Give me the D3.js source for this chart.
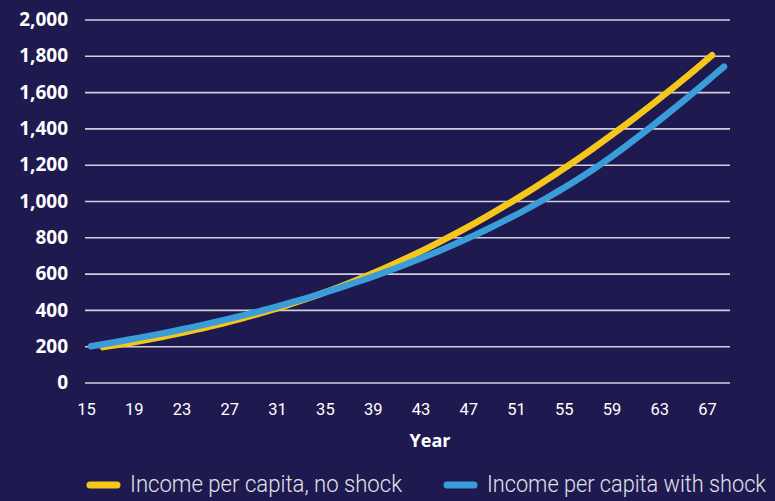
<html>

<head>
  <script src="https://d3js.org/d3.v7.min.js"></script>
  <style>
    body {
      margin: 0;
      background: #1e1a50;
    }

    svg {
      display: block;
    }

    .yLabel {
      fill: #ffffff;
      font-family: "Open Sans", sans-serif;
      font-weight: bold;
      font-size: 19px;
    }

    .xLabel {
      fill: #ffffff;
      font-family: Roboto, sans-serif;
      font-size: 16.5px;
    }

    .axisTitle {
      fill: #ffffff;
      font-family: "Open Sans", sans-serif;
      font-weight: bold;
      font-size: 18px;
    }

    .legendText {
      fill: #e2e2ea;
      font-family: Roboto, sans-serif;
      font-weight: 300;
      font-size: 24px;
    }
  </style>
</head>

<body>
  <svg id="chart" width="775" height="501"></svg>
  <script>
    // data
    const yearsNoShock = d3.range(16, 68);
    const incomeNoShock = [195, 205, 216, 227, 239, 252, 265, 279, 294, 309, 325, 342,
      360, 378, 397, 417, 438, 460, 483, 507, 532, 558, 585, 613, 642, 672, 703, 735,
      768, 802, 837, 873, 910, 948, 987, 1027, 1068, 1110, 1153, 1197, 1242, 1288,
      1335, 1383, 1432, 1482, 1533, 1585, 1638, 1692, 1747, 1803];

    const yearsShock = d3.range(15, 69);
    const incomeShock = [200, 211, 222, 234, 246, 258, 271, 284, 298, 312, 327, 342,
      358, 374, 391, 408, 426, 445, 464, 484, 505, 526, 548, 570, 593, 617, 642, 668,
      694, 721, 749, 778, 808, 839, 871, 904, 938, 974, 1011, 1049, 1088, 1129, 1172,
      1217, 1264, 1313, 1363, 1414, 1466, 1519, 1573, 1628, 1684, 1740];

    const xTicks = [15, 19, 23, 27, 31, 35, 39, 43, 47, 51, 55, 59, 63, 67];
    const yTicks = [0, 200, 400, 600, 800, 1000, 1200, 1400, 1600, 1800, 2000];

    const seriesNames = ["Income per capita, no shock", "Income per capita with shock"];
    const seriesColors = ["#f5c71a", "#3a9dd9"];

    let svg = d3.select("svg#chart");

    let plotLeft = 85;
    let plotRight = 730;

    let xScale = d3.scaleLinear([15, 68], [91, 724]);
    let yScale = d3.scaleLinear([0, 2000], [382.5, 19.5]);

    // grid lines
    let leftGrid = d3.axisLeft(yScale).tickValues(yTicks).tickFormat('').tickSize(-(plotRight - plotLeft));
    let grid = svg.append("g")
      .attr("transform", `translate(${plotLeft}, 0)`)
      .call(leftGrid);
    grid.select(".domain").remove();
    grid.selectAll("line")
      .attr("stroke", "#cfcfdc")
      .attr("stroke-width", 1.6);

    // y labels
    svg.selectAll("text.yLabel").data(yTicks)
      .join("text")
      .attr("class", "yLabel")
      .attr("x", 68)
      .attr("y", d => yScale(d))
      .attr("dy", "0.35em")
      .style("text-anchor", "end")
      .text(d => d3.format(",")(d));

    // x labels
    let xAxis = d3.axisBottom(xScale).tickValues(xTicks).tickSize(0).tickFormat(d3.format("d"));
    let xg = svg.append("g")
      .attr("transform", `translate(0, 400)`)
      .call(xAxis);
    xg.select(".domain").remove();
    xg.selectAll("text")
      .attr("class", "xLabel")
      .attr("dx", -5)
      .attr("fill", null);
    xg.attr("font-size", null).attr("font-family", null);

    svg.append("text")
      .attr("class", "axisTitle")
      .attr("x", 430)
      .attr("y", 447)
      .style("text-anchor", "middle")
      .text("Year");

    // lines
    let line = d3.line()
      .x(d => xScale(d[0]))
      .y(d => yScale(d[1]))
      .curve(d3.curveMonotoneX);

    let noShock = yearsNoShock.map((y, i) => [y, incomeNoShock[i]]);
    let shock = yearsShock.map((y, i) => [y, incomeShock[i]]);

    [noShock, shock].forEach((pts, i) => {
      svg.append("path")
        .datum(pts)
        .attr("d", line)
        .attr("fill", "none")
        .attr("stroke", seriesColors[i])
        .attr("stroke-width", 6.5)
        .attr("stroke-linecap", "round");
    });

    // legend
    let legendX = [87, 444];
    let legendTextLen = [272, 279];
    seriesNames.forEach((name, i) => {
      svg.append("line")
        .attr("x1", legendX[i] + 3)
        .attr("x2", legendX[i] + 30)
        .attr("y1", 485)
        .attr("y2", 485)
        .attr("stroke", seriesColors[i])
        .attr("stroke-width", 7)
        .attr("stroke-linecap", "round");

      svg.append("text")
        .attr("class", "legendText")
        .attr("x", legendX[i] + 43)
        .attr("y", 492)
        .attr("textLength", legendTextLen[i])
        .attr("lengthAdjust", "spacingAndGlyphs")
        .text(name);
    });
  </script>
</body>

</html>
